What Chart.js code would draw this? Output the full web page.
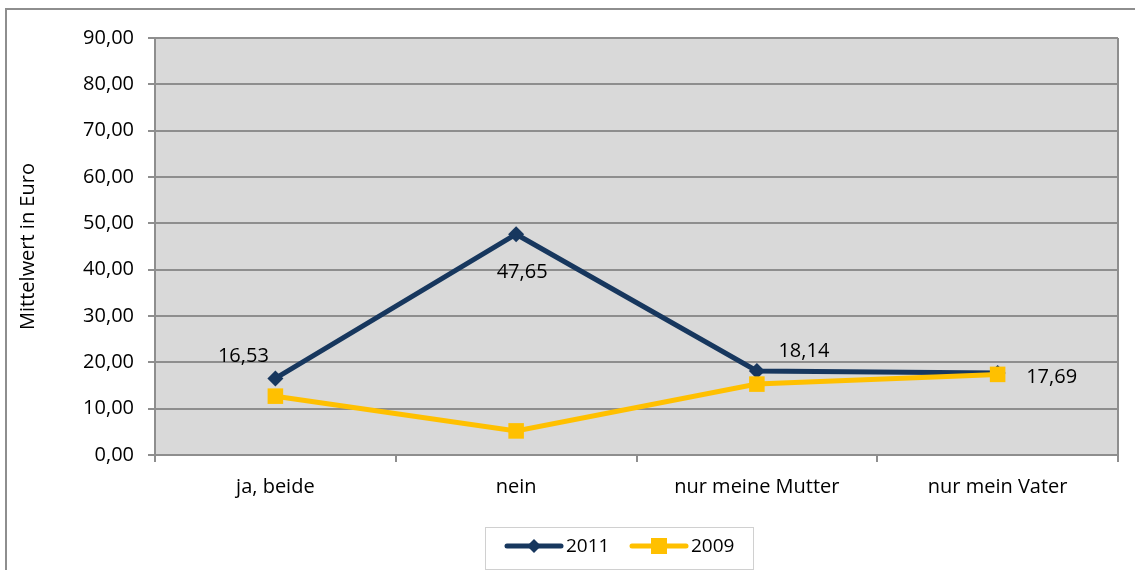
<!DOCTYPE html>
<html>
<head>
<meta charset="utf-8">
<script src="https://cdn.jsdelivr.net/npm/chart.js@4.4.1/dist/chart.umd.min.js"></script>
<style>
  html, body { margin: 0; padding: 0; background: #fff; overflow: hidden; }
  #wrap { position: relative; width: 1135px; height: 570px; }
  #frame { position: absolute; left: 5px; top: 8px; width: 1200px; height: 600px; border: 2px solid #8e8e8e; box-sizing: border-box; }
  canvas { position: absolute; left: 0; top: 0; }
</style>
</head>
<body>
<div id="wrap">
  <div id="frame"></div>
  <canvas id="chart" width="1135" height="570"></canvas>
</div>
<script>
var categories = ['ja, beide', 'nein', 'nur meine Mutter', 'nur mein Vater'];
var values2011 = [16.53, 47.65, 18.14, 17.69];
var values2009 = [12.7, 5.2, 15.3, 17.4];
var yTicks = [0, 10, 20, 30, 40, 50, 60, 70, 80, 90];

var FONT = '"Open Sans", "Noto Sans", sans-serif';
var FSIZE = 20;

function fmt(v) {
  return v.toFixed(2).replace('.', ',');
}

// grey plot background + right border
var plotBg = {
  id: 'plotBg',
  beforeDraw: function(chart) {
    var a = chart.chartArea, c = chart.ctx;
    c.save();
    c.fillStyle = '#d9d9d9';
    c.fillRect(a.left, a.top, a.right - a.left, a.bottom - a.top);
    c.strokeStyle = '#8e8e8e';
    c.lineWidth = 2;
    c.beginPath();
    c.moveTo(a.right, a.top);
    c.lineTo(a.right, a.bottom);
    c.stroke();
    c.restore();
  }
};

// value labels for the 2011 line
var labelOffsets = [[-32, -22], [6, 38], [47, -20], [54, 4]];
var valueLabels = {
  id: 'valueLabels',
  afterDatasetsDraw: function(chart) {
    var c = chart.ctx;
    var meta = chart.getDatasetMeta(0);
    c.save();
    c.font = FSIZE + 'px ' + FONT;
    c.fillStyle = '#000';
    c.textAlign = 'center';
    c.textBaseline = 'middle';
    meta.data.forEach(function(pt, i) {
      c.fillText(fmt(values2011[i]), pt.x + labelOffsets[i][0], pt.y + labelOffsets[i][1]);
    });
    c.restore();
  }
};

// legend with box
var boxLegend = {
  id: 'boxLegend',
  afterDraw: function(chart) {
    var c = chart.ctx;
    c.save();
    c.strokeStyle = '#d0d0d0';
    c.lineWidth = 1;
    c.strokeRect(485.5, 527.5, 268, 42);
    var items = [
      { x: 507, text: '2011', color: '#17375e', shape: 'diamond' },
      { x: 632, text: '2009', color: '#ffc000', shape: 'square' }
    ];
    var y = 546;
    items.forEach(function(it) {
      c.strokeStyle = it.color;
      c.fillStyle = it.color;
      c.lineWidth = 5;
      c.lineCap = 'round';
      c.beginPath();
      c.moveTo(it.x, y);
      c.lineTo(it.x + 54, y);
      c.stroke();
      var mx = it.x + 27;
      c.beginPath();
      if (it.shape === 'diamond') {
        c.moveTo(mx, y - 7); c.lineTo(mx + 7, y); c.lineTo(mx, y + 7); c.lineTo(mx - 7, y);
        c.closePath(); c.fill();
      } else {
        c.fillRect(mx - 8, y - 8, 16, 16);
      }
      c.fillStyle = '#000';
      c.font = '19px ' + FONT;
      c.textAlign = 'left';
      c.textBaseline = 'middle';
      c.fillText(it.text, it.x + 59, y + 1);
    });
    c.restore();
  }
};

new Chart(document.getElementById('chart'), {
  type: 'line',
  data: {
    labels: categories,
    datasets: [
      {
        label: '2011',
        data: values2011,
        order: 1,
        borderColor: '#17375e',
        backgroundColor: '#17375e',
        borderWidth: 5,
        pointStyle: 'rectRot',
        pointRadius: 8,
        pointBorderWidth: 0,
        tension: 0
      },
      {
        label: '2009',
        data: values2009,
        order: 0,
        borderColor: '#ffc000',
        backgroundColor: '#ffc000',
        borderWidth: 5,
        pointStyle: 'rect',
        pointRadius: 11,
        pointBorderWidth: 0,
        tension: 0
      }
    ]
  },
  options: {
    responsive: false,
    animation: false,
    layout: { padding: { left: 16, top: 38, right: 17, bottom: 0 } },
    plugins: {
      legend: { display: false },
      tooltip: { enabled: false }
    },
    scales: {
      x: {
        offset: true,
        grid: { offset: true, drawOnChartArea: false, tickLength: 7, color: '#8e8e8e', lineWidth: 2 },
        border: { color: '#8e8e8e', width: 2 },
        ticks: { color: '#000', font: { family: FONT, size: FSIZE }, padding: 13, maxRotation: 0 },
        afterFit: function(s) { s.height = 115; }
      },
      y: {
        min: 0,
        max: 90,
        afterBuildTicks: function(s) { s.ticks = yTicks.map(function(v) { return { value: v }; }); },
        grid: { color: '#8e8e8e', lineWidth: 2, tickLength: 7 },
        border: { color: '#8e8e8e', width: 2 },
        ticks: {
          color: '#000',
          font: { family: FONT, size: FSIZE },
          padding: 14,
          callback: function(v) { return fmt(v); }
        },
        title: { display: true, text: 'Mittelwert in Euro', color: '#000', font: { family: FONT, size: FSIZE }, padding: 0 },
        afterFit: function(s) { s.width = 139; }
      }
    }
  },
  plugins: [plotBg, valueLabels, boxLegend]
});
</script>
</body>
</html>
